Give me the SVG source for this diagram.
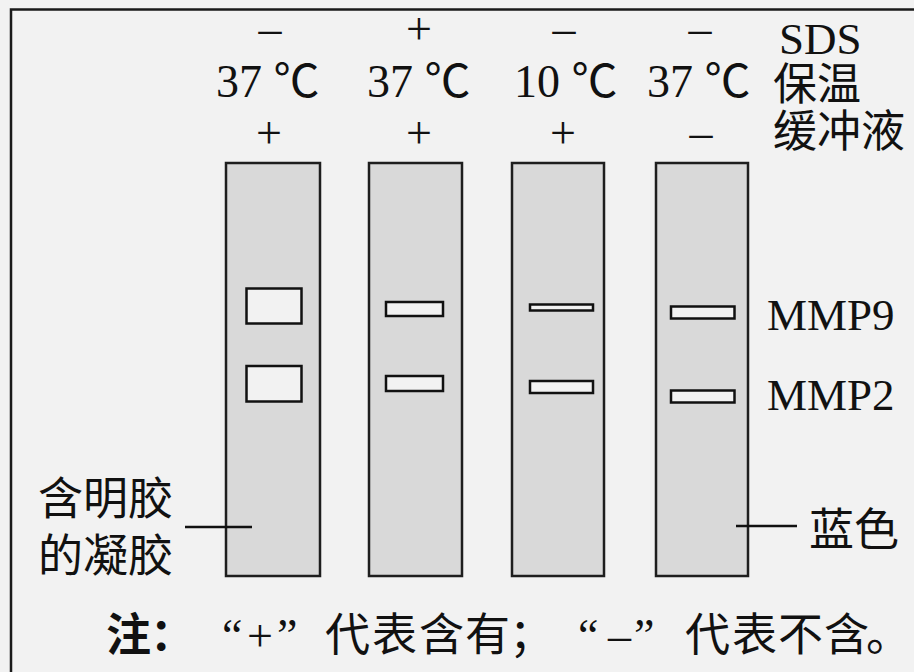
<svg xmlns="http://www.w3.org/2000/svg" width="914" height="672" viewBox="0 0 914 672">
<style>
.lat{font-family:"Liberation Serif","Noto Sans CJK SC",serif;font-size:46px;fill:#111}
.cjk{font-family:"Noto Sans CJK SC","Liberation Serif",serif;font-size:45px;fill:#111}
.strip{fill:#d9d9d9;stroke:#1e1e1e;stroke-width:2.5}
.band{fill:#f2f2f2;stroke:#111;stroke-width:2.5}
.lead{stroke:#111;stroke-width:2.5;fill:none}
</style>
<rect x="0" y="0" width="914" height="672" fill="#f2f2f2"/>
<rect id="frame" x="11" y="9.5" width="930" height="690" fill="#f2f2f2" stroke="#1a1a1a" stroke-width="2.5"/>

<g id="header">
  <text class="lat" x="270" y="44" text-anchor="middle">–</text>
  <text class="lat" x="419" y="44" text-anchor="middle">+</text>
  <text class="lat" x="564" y="44" text-anchor="middle">–</text>
  <text class="lat" x="700" y="44" text-anchor="middle">–</text>
  <text class="lat" x="216" y="97">37 ℃</text>
  <text class="lat" x="367" y="97">37 ℃</text>
  <text class="lat" x="514" y="97">10 ℃</text>
  <text class="lat" x="647" y="97">37 ℃</text>
  <text class="lat" x="269" y="148" text-anchor="middle">+</text>
  <text class="lat" x="419" y="148" text-anchor="middle">+</text>
  <text class="lat" x="563" y="148" text-anchor="middle">+</text>
  <text class="lat" x="701" y="148" text-anchor="middle">–</text>
  <text class="cjk" style="font-size:44px"><tspan class="lat" x="779" y="54" style="font-size:45px">SDS</tspan><tspan x="773" y="100">保温</tspan><tspan x="773" y="147">缓冲液</tspan></text>
</g>

<g id="lane1">
  <rect class="strip" x="226" y="163" width="94" height="413"/>
  <rect class="band" x="246.5" y="288.5" width="55" height="35"/>
  <rect class="band" x="246.5" y="366" width="55" height="35.5"/>
</g>
<g id="lane2">
  <rect class="strip" x="369" y="163" width="93" height="413"/>
  <rect class="band" x="386" y="302" width="57" height="14"/>
  <rect class="band" x="386" y="376" width="57" height="15"/>
</g>
<g id="lane3">
  <rect class="strip" x="512" y="163" width="92" height="413"/>
  <rect class="band" x="530" y="304.5" width="63" height="6"/>
  <rect class="band" x="530" y="381" width="63" height="12"/>
</g>
<g id="lane4">
  <rect class="strip" x="656" y="163" width="92" height="413"/>
  <rect class="band" x="671" y="306.5" width="63.5" height="12"/>
  <rect class="band" x="671" y="390.5" width="63.5" height="12"/>
</g>

<g id="label-mmp9"><text class="lat" x="767" y="330" style="font-size:45px">MMP9</text></g>
<g id="label-mmp2"><text class="lat" x="767" y="410" style="font-size:45px">MMP2</text></g>
<g id="label-gel">
  <text class="cjk"><tspan x="38" y="515">含明胶</tspan><tspan x="38" y="572">的凝胶</tspan></text>
</g>
<g id="label-blue"><text class="cjk" x="809" y="546">蓝色</text></g>

<g id="connectors">
  <line class="lead" x1="185" y1="527" x2="252" y2="527"/>
  <line class="lead" x1="736" y1="526" x2="797" y2="526"/>
</g>

<g id="note">
  <text class="cjk" y="651" style="font-size:45px"><tspan x="106" font-weight="bold">注</tspan><tspan x="150" font-weight="bold">：</tspan><tspan x="222" class="lat">“</tspan><tspan x="247" class="lat">+</tspan><tspan x="277" class="lat">”</tspan><tspan x="325">代</tspan><tspan x="372">表</tspan><tspan x="419">含</tspan><tspan x="465">有</tspan><tspan x="509">；</tspan><tspan x="578" class="lat">“</tspan><tspan x="608" class="lat">–</tspan><tspan x="634" class="lat">”</tspan><tspan x="685">代</tspan><tspan x="732">表</tspan><tspan x="778">不</tspan><tspan x="824">含</tspan><tspan x="866">。</tspan></text>
</g>
</svg>
